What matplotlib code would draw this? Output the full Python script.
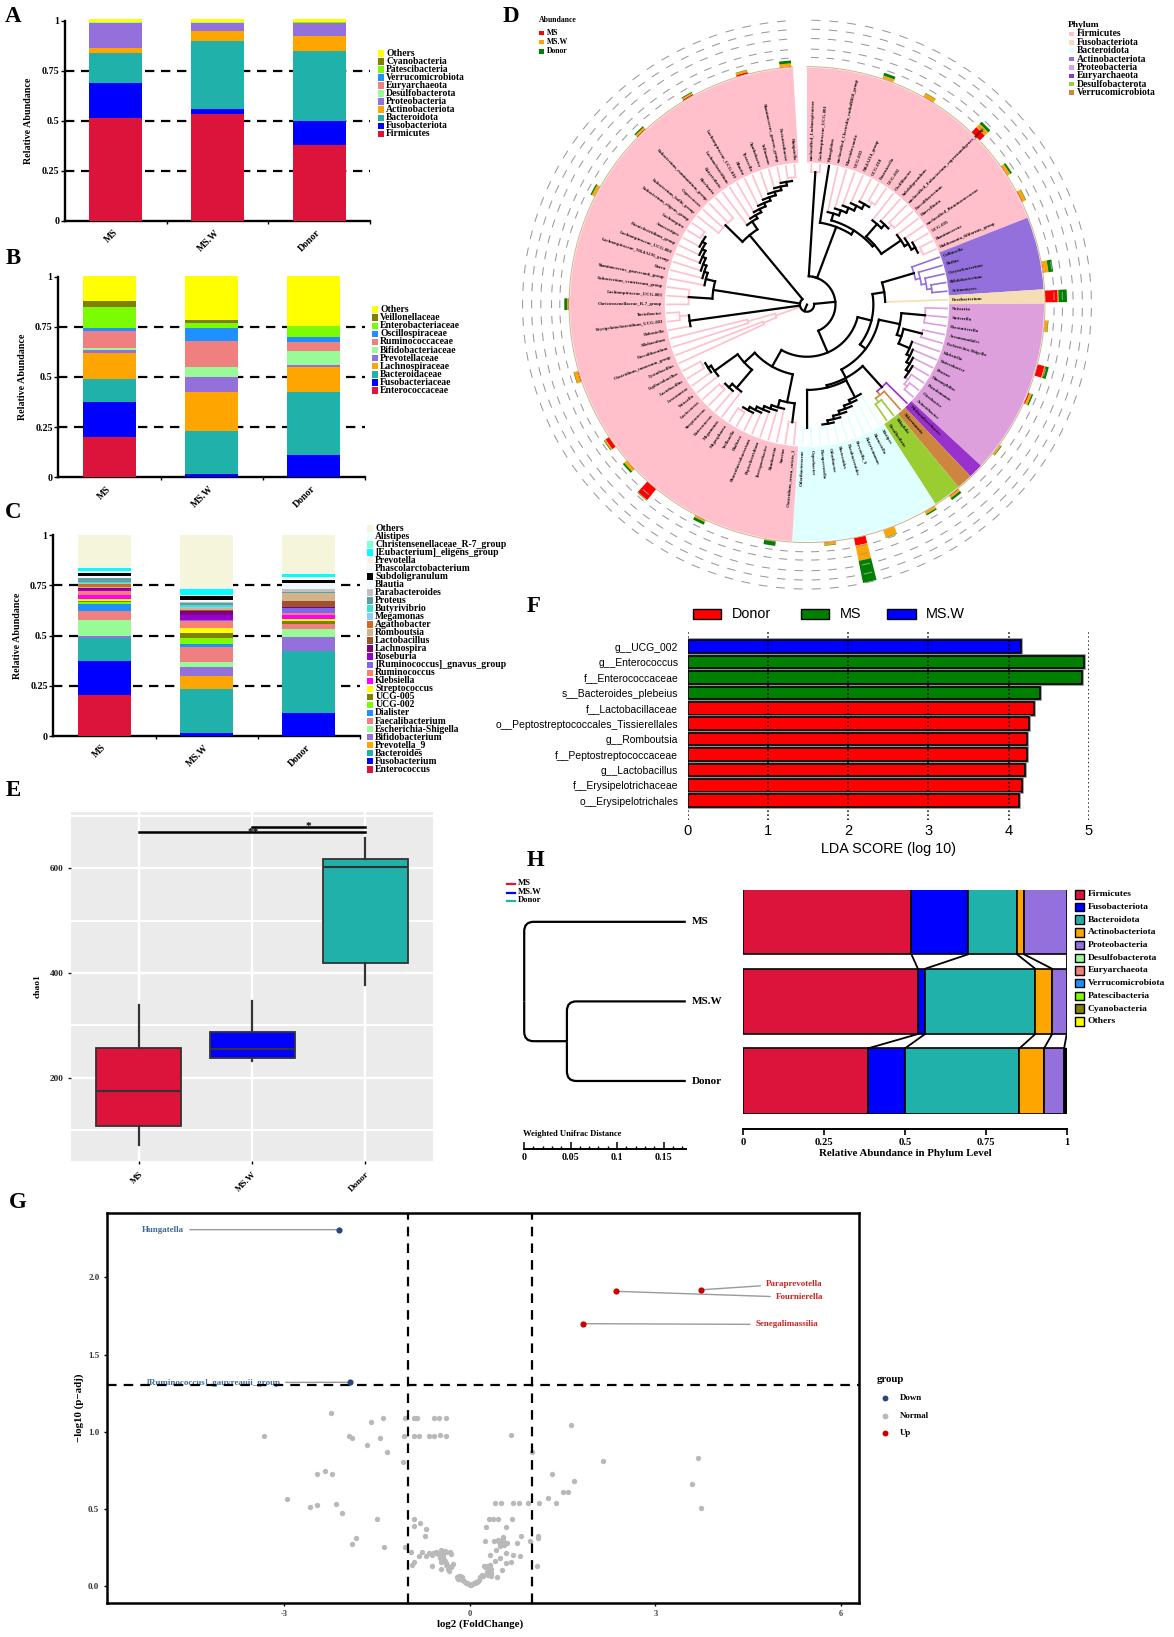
import numpy as np
import matplotlib
matplotlib.use("Agg")
import matplotlib.pyplot as plt
import matplotlib.patheffects as pe
from matplotlib.patches import Rectangle, Wedge, PathPatch
from matplotlib.path import Path

W, H = 1174, 1637
plt.rcParams['font.family'] = ['Liberation Serif', 'DejaVu Serif']
plt.rcParams['font.weight'] = 'bold'
plt.rcParams['axes.labelweight'] = 'bold'
SANS = ['Liberation Sans', 'DejaVu Sans']

groups = ['MS', 'MS.W', 'Donor']

# panel A, cumulative tops of each phylum
a_names = ['Firmicutes', 'Fusobacteriota', 'Bacteroidota', 'Actinobacteriota', 'Proteobacteria',
           'Desulfobacterota', 'Euryarchaeota', 'Verrucomicrobiota', 'Patescibacteria', 'Cyanobacteria', 'Others']
a_colors = ['#DC143C', '#0000FF', '#20B2AA', '#FFA500', '#9370DB', '#98FB98', '#F08080', '#1E90FF',
            '#7CFC00', '#808000', '#FFFF00']
a_ms = [.515, .69, .84, .862, .99, .991, .992, .993, .994, .995, 1.008]
a_msw = [.535, .56, .897, .95, .99, .991, .992, .993, .994, .995, 1.008]
a_donor = [.378, .497, .85, .925, .987, .988, .989, .99, .991, .992, 1.008]

# panel B
b_names = ['Enterococcaceae', 'Fusobacteriaceae', 'Bacteroidaceae', 'Lachnospiraceae', 'Prevotellaceae',
           'Bifidobacteriaceae', 'Ruminococcaceae', 'Oscillospiraceae', 'Enterobacteriaceae', 'Veillonellaceae', 'Others']
b_ms = [.203, .377, .488, .618, .635, .645, .731, .746, .847, .88, 1.005]
b_msw = [0, .017, .231, .425, .50, .548, .678, .743, .767, .784, 1.005]
b_donor = [0, .111, .424, .551, .561, .63, .676, .70, .756, .756, 1.005]

# panel C
c_names = ['Enterococcus', 'Fusobacterium', 'Bacteroides', 'Prevotella_9', 'Bifidobacterium', 'Escherichia-Shigella',
           'Faecalibacterium', 'Dialister', 'UCG-002', 'UCG-005', 'Streptococcus', 'Klebsiella', 'Ruminococcus',
           '[Ruminococcus]_gnavus_group', 'Roseburia', 'Lachnospira', 'Lactobacillus', 'Romboutsia', 'Agathobacter',
           'Megamonas', 'Butyrivibrio', 'Proteus', 'Parabacteroides', 'Blautia', 'Subdoligranulum',
           'Phascolarctobacterium', 'Prevotella', '[Eubacterium]_eligens_group', 'Christensenellaceae_R-7_group',
           'Alistipes', 'Others']
c_colors = ['#DC143C', '#0000FF', '#20B2AA', '#FFA500', '#9370DB', '#98FB98', '#F08080', '#1E90FF', '#7CFC00',
            '#808000', '#FFFF00', '#FF00FF', '#FA8072', '#7B68EE', '#9400D3', '#800080', '#A0522D', '#D2B48C',
            '#D2691E', '#87CEFA', '#40E0D0', '#5F9EA0', '#C0C0C0', '#F0F8FF', '#000000', '#F0F8FF', '#FAF0E6',
            '#00FFFF', '#7FFFD4', '#F0FFFF', '#F5F5DC']
c_ms = [.204, .374, .487, .49, .50, .576, .625, .66, .67, .672, .681, .703, .722, .724, .73, .735, .737, .74, .759,
        .76, .769, .787, .788, .797, .81, .819, .822, .835, .836, .84, 1.003]
c_msw = [0, .015, .233, .30, .344, .367, .443, .458, .49, .515, .538, .539, .571, .576, .601, .625, .628, .636, .637,
         .645, .652, .664, .667, .678, .696, .70, .703, .731, .733, .744, 1.003]
c_donor = [0, .113, .424, .425, .495, .533, .556, .557, .558, .575, .585, .601, .611, .638, .640, .642, .673, .711,
           .712, .713, .714, .715, .734, .761, .777, .79, .792, .806, .807, .81, 1.003]

# panel D, phylum wedges as (start, end) angles and the genera inside them
firm_right = ['unclassified_Lachnospiraceae', 'Lachnospiraceae_UCG-001', 'Monoglobus',
              'unclassified_Clostridia_vadinBB60_group', 'Marvinbryantia', 'UCG-003', 'NK4A214_group', 'UCG-010',
              'Fournierella', 'UCG-002', 'Oscillibacter', 'Subdoligranulum',
              'unclassified_Eubacterium_coprostanoligenes_group', 'Faecalibacterium', 'Harryflintia',
              'unclassified_Ruminococcaceae', 'UCG-005', 'Ruminococcus', 'Holdemania_filiformis_group']
actino = ['Collinsella', 'Rothia', 'Corynebacterium', 'Bifidobacterium', 'Actinomyces']
fuso = ['Fusobacterium']
proteo = ['Neisseria', 'Sutterella', 'Parasutterella', 'Aeromonadales', 'Escherichia-Shigella', 'Klebsiella',
          'Enterobacter', 'Proteus', 'Haemophilus', 'Pseudomonas', 'Citrobacter', 'Acinetobacter']
eury = ['Methanobrevibacter']
verru = ['Akkermansia']
desulfo = ['Bilophila', 'Desulfovibrio']
bactero = ['Alistipes', 'Barnesiella', 'Butyricimonas', 'Prevotella_9', 'Parabacteroides', 'Bacteroides',
           'Odoribacter', 'Paraprevotella', 'Coprobacter', 'Odoribacteraceae']
firm_left = ['Clostridium_sensu_stricto_1', 'Sarcina', 'Romboutsia', 'Terrisporobacter', 'Peptoclostridium',
             'Phascolarctobacterium', 'Dialister', 'Veillonella', 'Megasphaera', 'Megamonas', 'Enterococcus',
             'Streptococcus', 'Lactococcus', 'Weissella', 'Leuconostoc', 'Lactobacillus', 'Ligilactobacillus',
             'Lysinibacillus', 'Clostridium_innocuum_group', 'Faecalibaculum', 'Allobaculum', 'Dubosiella',
             'Erysipelatoclostridium_UCG-003', 'Turicibacter', 'Christensenellaceae_R-7_group',
             'Lachnospiraceae_UCG-003', 'Eubacterium_ventriosum_group', 'Ruminococcus_gauvreauii_group', 'Dorea',
             'Lachnospiraceae_NK4A136_group', 'Lachnospiraceae_UCG-004', 'Paeniclostridium_group', 'Anaerostipes',
             'Lachnospira', 'Eubacterium_eligens_group', 'Eubacterium_hallii_group', 'Coprococcus',
             'Eubacterium_ruminantium_group', 'Roseburia', 'Butyrivibrio', 'Lachnoclostridium',
             'Lachnospiraceae_UCG-010', 'Blautia', 'Tyzzerella', 'Agathobacter', 'Sellimonas',
             'Ruminococcus_gnavus_group', 'Fusicatenibacter', 'Hungatella']
phyla_genera = [firm_right, actino, fuso, proteo, eury, verru, desulfo, bactero, firm_left]
phyla_edges = [(90, 21.5), (21.5, 3.7), (3.7, .2), (.2, -42.8), (-42.8, -46.4), (-46.4, -50.3), (-50.3, -57.2),
               (-57.2, -93.6), (-93.6, -266.6)]
phyla_colors = ['#FFC0CB', '#9370DB', '#F5DEB3', '#DDA0DD', '#9932CC', '#CD853F', '#9ACD32', '#E0FFFF', '#FFC0CB']
d_phylum_names = ['Firmicutes', 'Fusobacteriota', 'Bacteroidota', 'Actinobacteriota', 'Proteobacteria',
                  'Euryarchaeota', 'Desulfobacterota', 'Verrucomicrobiota']
d_phylum_colors = ['#FFC0CB', '#F5DEB3', '#E0FFFF', '#9370DB', '#DDA0DD', '#9932CC', '#9ACD32', '#CD853F']

abund_leaf = [5, 8, 12, 15, 17, 22, 24, 26, 29, 31, 35, 39, 41, 44, 46, 48, 52, 57, 61, 63, 65, 70, 75, 83, 88, 92, 96, 99]
abund_ms = [.002, .003, .03, .003, .004, .003, .053, .002, .03, .006, .002, .004, .002, .002, .033, .003, .002, .003,
            .06, .003, .018, .004, .003, .002, .004, .006, .008, .003]
abund_msw = [.012, .014, .02, .012, .014, .02, .004, .012, .004, .01, .006, .008, .01, .03, .065, .01, .002, .006,
             .002, .012, .006, .015, .004, .012, .008, .006, .008, .012]
abund_donor = [.012, .002, .012, .008, .002, .02, .035, .002, .015, .006, .003, .01, .006, .002, .095, .002, .018,
               .012, .002, .008, .003, .002, .012, .006, .006, .004, .002, .012]

# panel E, box statistics
e_low = [71, 232, 377]
e_q1 = [108, 238, 420]
e_med = [175, 254, 602]
e_q3 = [257, 287, 618]
e_high = [338, 347, 658]
e_colors = ['#DC143C', '#0000FF', '#20B2AA']

# panel F
f_labels = ['g__UCG_002', 'g__Enterococcus', 'f__Enterococcaceae', 's__Bacteroides_plebeius', 'f__Lactobacillaceae',
            'o__Peptostreptococcales_Tissierellales', 'g__Romboutsia', 'f__Peptostreptococcaceae', 'g__Lactobacillus',
            'f__Erysipelotrichaceae', 'o__Erysipelotrichales']
f_scores = [4.15, 4.94, 4.91, 4.39, 4.32, 4.25, 4.235, 4.225, 4.2, 4.165, 4.13]
f_group = ['MS.W', 'MS', 'MS', 'MS', 'Donor', 'Donor', 'Donor', 'Donor', 'Donor', 'Donor', 'Donor']
f_palette = {'Donor': '#FF0000', 'MS': '#008000', 'MS.W': '#0000FF'}

# panel H, cumulative tops
h_names = ['Firmicutes', 'Fusobacteriota', 'Bacteroidota', 'Actinobacteriota', 'Proteobacteria', 'Desulfobacterota',
           'Euryarchaeota', 'Verrucomicrobiota', 'Patescibacteria', 'Cyanobacteria', 'Others']
h_colors = ['#DC143C', '#0000FF', '#20B2AA', '#FFA500', '#9370DB', '#98FB98', '#F08080', '#1E90FF', '#7CFC00',
            '#808000', '#FFFF00']
h_ms = [.52, .694, .847, .869, 1.0]
h_msw = [.54, .562, .903, .955, 1.0]
h_donor = [.386, .50, .854, .93, .992]
h_branch_tip = .174
h_branch_node = .046

# panel G
normal_x = [-3.33, -2.25, -1.96, -1.90, -1.60, -1.40, -1.67, -1.45, -1.34, -1.08, -1.05, -.91, -.85, -.58, -.50, -.38,
            -1.07, -.90, -.82, -.66, -.58, -.48, -.39, .66, 1.01, -2.47, -2.35, -2.23, -2.96, -2.59, -2.47, -2.16,
            -2.07, -1.50, -1.84, -1.91, -1.39, -1.05, -.95, -.91, -.81, -.90, -.71, -.72, -.83, -.77, -.71, -.66,
            -.60, -.54, -.46, -.38, -.32, -.31, -.62, -.49, -.43, -.46, -.40, -.38, -.35, -.34, -.27, -.61, -.47,
            -.91, -.94, -.17, -.135, -.19, -.11, -.08, -.04, 0, .04, .08, .12, .19, .15, .23, .27, .32, .35, .32, .30,
            .35, .44, .52, .40, .32, .485, .58, .67, .81, .70, .59, .43, .25, .39, .475, .51, .54, .53, .485, .60, .77,
            .825, .965, 1.10, 1.11, 1.09, .26, .58, .31, .38, .45, .68, .41, .51, .69, .80, .945, 1.12, 1.27, 1.39,
            1.33, 1.63, 2.16, 1.68, 1.51, 1.58, 3.69, 3.59, 3.74,
            -.16, -.12, -.065, -.02, .02, -.205, .065, .10, .135, .17, -.44, -.42, -.39, -.35, -.31, -.485, -.44, -.51,
            -.58, -.405, .25, .30, .285, .335, .27, .215, .485, .51, .54, .496, .55, .46]
normal_y = [.97, 1.12, .97, .96, 1.06, 1.09, .91, .96, .87, .80, 1.09, 1.09, 1.09, 1.09, 1.09, 1.09, .97, .97, .97,
            .97, .97, .98, .97, .98, .87, .725, .745, .725, .56, .51, .525, .53, .47, .43, .31, .27, .25, .25, .22,
            .435, .41, .39, .37, .32, .19, .22, .19, .21, .215, .22, .23, .22, .22, .205, .20, .19, .18, .155, .16,
            .135, .11, .095, .14, .125, .11, .155, .135, .06, .055, .045, .04, .025, .015, .002, .01, .02, .025, .07,
            .035, .125, .13, .135, .11, .09, .07, .06, .055, .105, .16, .20, .18, .145, .155, .19, .20, .215, .235,
            .29, .29, .285, .275, .295, .315, .26, .28, .275, .325, .29, .31, .325, .125, .38, .38, .433, .433, .433,
            .433, .535, .535, .535, .535, .535, .535, .567, .54, .725, 1.04, .81, .68, .606, .61, .83, .66, .505,
            .063, .04, .02, .01, .006, .055, .015, .024, .03, .058, .19, .167, .15, .128, .123, .178, .205, .205,
            .21, .227, .12, .11, .09, .08, .08, .063, .286, .292, .279, .262, .266, .297]
down_names = ['Hungatella', '[Ruminococcus]_gauvreauii_group']
down_x = [-2.11, -1.94]
down_y = [2.31, 1.32]
up_names = ['Paraprevotella', 'Fournierella', 'Senegalimassilia']
up_x = [3.74, 2.36, 1.83]
up_y = [1.92, 1.91, 1.70]


def ax_px(left, top, right, bottom, **kw):
    return fig.add_axes([left / W, 1 - bottom / H, (right - left) / W, (bottom - top) / H], **kw)


def swatches(x, y0, step, names, colors, size, fs, tx=None, edge='none'):
    # legend rows from the top, drawn on the pixel overlay
    for i, (n, c) in enumerate(zip(names, colors)):
        y = y0 + i * step
        ov.add_patch(Rectangle((x, y - size / 2), size, size, fc=c, ec=edge, lw=1.0))
        ov.text(tx if tx else x + size + 2, y, n, fontsize=fs, va='center', ha='left')


def stacked(box, cols, colors):
    ax = ax_px(*box)
    ax.set_xlim(0, 3)
    ax.set_ylim(0, 1)
    for i, tops in enumerate(cols):
        prev = 0
        for t, c in zip(tops, colors):
            ax.bar(i + .5, t - prev, .52, bottom=prev, color=c, lw=0, zorder=3, clip_on=False)
            prev = t
    for v in [.25, .5, .75]:
        ax.axhline(v, color='k', lw=1.6, dashes=(4.2, 3), zorder=1)
    ax.spines[['top', 'right']].set_visible(False)
    ax.spines[['left', 'bottom']].set_linewidth(1.7)
    ax.set_yticks([0, .25, .5, .75, 1], ['0', '0.25', '0.5', '0.75', '1'], fontsize=7.2)
    ax.tick_params(axis='y', length=3, width=1, pad=1)
    ax.set_xticks([.47, 1.47, 2.47], groups, rotation=45, ha='right', rotation_mode='anchor', fontsize=7)
    ax.set_xticks([1, 2, 3], minor=True)
    ax.tick_params(axis='x', which='major', length=0, pad=5)
    ax.tick_params(axis='x', which='minor', length=2, width=1)
    ax.set_ylabel('Relative Abundance', fontsize=7.2, labelpad=6)
    return ax


fig = plt.figure(figsize=(W / 100, H / 100), dpi=100, facecolor='white')

# A B C
stacked((65, 20.7, 370, 220.7), [a_ms, a_msw, a_donor], a_colors)
stacked((58.3, 276.7, 365, 477.3), [b_ms, b_msw, b_donor], a_colors)
stacked((53.3, 535.3, 360, 736), [c_ms, c_msw, c_donor], c_colors)

# D circular tree, plain axes so the wedges stay round
ax_d = ax_px(507, 4.6, 1107, 604.6)
lim = 300 / 237
ax_d.set_xlim(-lim, lim)
ax_d.set_ylim(-lim, lim)
ax_d.axis('off')

theta, leaf_col, leaf_name, steps = [], [], [], []
for names, (a0, a1), col in zip(phyla_genera, phyla_edges, phyla_colors):
    ax_d.add_patch(Wedge((0, 0), 1, a1, a0, width=.40, fc=col, ec='none'))
    st = (a0 - a1) / len(names)
    for i, n in enumerate(names):
        theta.append(a0 - st * (i + .5))
        leaf_col.append(col)
        leaf_name.append(n)
        steps.append(st)
theta = np.array(theta)


def pol(r, a):
    return r * np.cos(np.radians(a)), r * np.sin(np.radians(a))


for t, n in zip(theta, leaf_name):
    x, y = pol(.612, t)
    right = np.cos(np.radians(t)) >= 0
    ax_d.text(x, y, n, fontsize=3.4, rotation=t if right else t + 180, rotation_mode='anchor',
              ha='left' if right else 'right', va='center', color='#111111')

# dashed abundance rings and baseline
for r in [1.043, 1.078, 1.123, 1.162, 1.2]:
    for t, st in zip(theta, steps):
        arc = np.linspace(t - st * .22, t + st * .22, 5)
        ax_d.plot(*pol(r, arc), color='#9a9a9a', lw=.75)
arc = np.linspace(-266.6, 90, 400)
ax_d.plot(*pol(1.004, arc), color='#C9B48C', lw=.7)

# abundance bars stacked per leaf
for leaf, a, b, c in zip(abund_leaf, abund_ms, abund_msw, abund_donor):
    r = 1.005
    for v, col in zip((a, b, c), ('#FF0000', '#FFA500', '#008000')):
        ax_d.add_patch(Wedge((0, 0), r + v, theta[leaf] - 1.4, theta[leaf] + 1.4, width=v, fc=col, ec='none'))
        r += v


def ladder(leaves, r, step, flag=None):
    node = leaves[-1]
    for i in range(len(leaves) - 2, -1, -1):
        kids = [leaves[i], node]
        node = (r + step * i, kids, flag) if flag else (r + step * i, kids)
    return node


def first_leaf(node):
    while not isinstance(node, int):
        node = node[1][0]
    return node


def draw(node, parent_r, flagged=False):
    if isinstance(node, int):
        col = leaf_col[node] if (parent_r >= .4 or flagged) else 'k'
        ax_d.plot(*pol(np.array([parent_r, .592]), theta[node]), color=col, lw=1.2 if col != 'k' else 1.6)
        return theta[node]
    r, kids = node[0], node[1]
    flag = node[2] if len(node) > 2 else None
    ang = [draw(k, r, bool(flag)) for k in kids]
    mid = (max(ang) + min(ang)) / 2
    terminal = all(isinstance(k, int) for k in kids)
    col = leaf_col[first_leaf(node)] if (flag or terminal or r >= .53) else 'k'
    arc = np.linspace(min(ang), max(ang), 40)
    ax_d.plot(*pol(r, arc), color=col, lw=1.2 if col != 'k' else 1.6)
    colored = flag == 'c' or (col != 'k' and parent_r >= .47)
    ax_d.plot(*pol(np.array([parent_r, r]), mid), color=col if colored else 'k', lw=1.2 if colored else 1.6)
    return mid


rng = lambda a, b: list(range(a, b + 1))
fr = (.12, [(.56, [0, 1]), (.35, [2, (.37, [ladder(rng(3, 9), .40, .022),
                                            (.38, [ladder(rng(10, 13), .45, .02), ladder(rng(14, 18), .48, .018)])])])])
act = ladder(rng(19, 23), .47, .02, 'o')
pro = (.40, [(.50, [25, 26, 27]), (.42, [(.50, [28, 29]), ladder(rng(30, 36), .47, .015)])])
eud = (.47, [37, (.49, [38, (.51, [39, 40], 'o')], 'o')], 'o')
bac = (.36, [ladder(rng(41, 48), .44, .014), (.52, [49, 50])])
mid_tree = (.28, [(.33, [act, (.35, [24], 'c')]), (.31, [pro, (.35, [eud, bac])])])
c5 = (.42, [(.50, [51, 52]), ladder(rng(53, 59), .45, .015)])
c4 = (.36, [ladder(rng(60, 63), .46, .02), ladder(rng(64, 67), .48, .015)])
backbone = (.12, [fr, (.22, [mid_tree, (.30, [c5, c4])])])
pink = (.14, [(.2, [68, 69], 'c'), (.26, [70, 71], 'c')], 'c')
c3 = (.50, [72, (.54, [73, 74])])
c2 = (.40, [(.5, [75, 76, 77]), ladder(rng(78, 85), .44, .015)])
c1 = (.38, [(.48, [86, 87, 88, 89]), ladder(rng(90, 99), .42, .015)])
draw((.03, [backbone, pink, c3, c2, c1]), 0)

# E
ax_e = ax_px(71, 811.7, 433.3, 1160.7)
stats = [dict(med=m, q1=a, q3=b, whislo=l, whishi=h, fliers=[])
         for m, a, b, l, h in zip(e_med, e_q1, e_q3, e_low, e_high)]
bp = ax_e.bxp(stats, positions=[1, 2, 3], widths=.75, patch_artist=True, showcaps=False, showfliers=False,
              boxprops=dict(edgecolor='#333333', lw=1.3), whiskerprops=dict(color='#333333', lw=1.6),
              medianprops=dict(color='#333333', lw=1.5), zorder=3)
for b, c in zip(bp['boxes'], e_colors):
    b.set_facecolor(c)
ax_e.set_xlim(.4, 3.6)
ax_e.set_ylim(41.5, 708)
ax_e.set_facecolor('#EBEBEB')
ax_e.spines[:].set_visible(False)
ax_e.set_axisbelow(True)
ax_e.set_yticks([200, 400, 600])
ax_e.set_yticks([100, 300, 500, 700], minor=True)
ax_e.grid(True, which='major', color='white', lw=1.7)
ax_e.grid(True, which='minor', axis='y', color='white', lw=1.4)
ax_e.tick_params(axis='y', which='minor', length=0)
ax_e.tick_params(axis='y', which='major', length=2.5, width=1, labelsize=6.6, pad=3, colors='#222222')
ax_e.set_xticks([1, 2, 3], groups, rotation=45, ha='right', rotation_mode='anchor', fontsize=6.6)
ax_e.tick_params(axis='x', length=2.5, width=1, pad=4)
ax_e.set_ylabel('chao1', fontsize=6.8, labelpad=6)
ax_e.plot([1, 3], [669, 669], color='k', lw=1.8, zorder=4)
ax_e.plot([2, 3], [679, 679], color='k', lw=1.8, zorder=4)
ax_e.text(2.01, 668, '**', ha='center', va='center', fontsize=8, zorder=5)
ax_e.text(2.5, 680, '*', ha='center', va='center', fontsize=8, zorder=5)

# F
ax_f = ax_px(688, 632, 1088.8, 820)
ypos = np.arange(len(f_scores))
bars = ax_f.barh(ypos, f_scores, .82, color=[f_palette[g] for g in f_group], edgecolor='k', lw=1.2, zorder=2)
for b in bars:
    b.set_path_effects([pe.withStroke(linewidth=2.6, foreground='#8c8c8c')])
ax_f.set_xlim(0, 5)
ax_f.set_ylim(11.25, -.955)
ax_f.spines[:].set_visible(False)
ax_f.grid(True, axis='x', color='k', ls=':', lw=1.1, zorder=3)
ax_f.set_axisbelow(False)
ax_f.set_yticks(ypos, f_labels, family=SANS, weight='normal', fontsize=7.5)
ax_f.tick_params(axis='y', length=0, pad=7)
ax_f.set_xticks(range(6), [str(i) for i in range(6)], family=SANS, weight='normal', fontsize=10.5)
ax_f.tick_params(axis='x', length=0, pad=3)
ax_f.set_xlabel('LDA SCORE (log 10)', family=SANS, weight='normal', fontsize=10.4, labelpad=3)

# H bars with connectors
ax_h = ax_px(743.3, 890, 1066.7, 1114)
rows = [(2, h_ms), (1, h_msw), (0, h_donor)]
for y, tops in rows:
    prev = 0
    for t, c in zip(tops, h_colors):
        ax_h.barh(y, t - prev, .82, left=prev, color=c, edgecolor='k', lw=1.2)
        prev = t
    if prev < 1:
        ax_h.barh(y, 1 - prev, .82, left=prev, color='k', edgecolor='k', lw=1.0)
for (y0, t0), (y1, t1) in zip(rows[:-1], rows[1:]):
    for a, b in zip(t0, t1):
        ax_h.plot([a, b], [y0 - .41, y1 + .41], color='k', lw=1.3)
ax_h.set_xlim(0, 1)
ax_h.set_ylim(-.415, 2.40)
ax_h.spines[['top', 'right', 'left']].set_visible(False)
ax_h.spines['bottom'].set_position(('outward', 11))
ax_h.spines['bottom'].set_linewidth(1.4)
ax_h.set_yticks([])
ax_h.set_xticks([0, .25, .5, .75, 1], ['0', '0.25', '0.5', '0.75', '1'], fontsize=7.6)
ax_h.tick_params(axis='x', length=4, width=1.2, pad=2)
ax_h.set_xlabel('Relative Abundance in Phylum Level', fontsize=7.8, labelpad=2)

# H dendrogram
ax_t = ax_px(524.2, 890, 685.8, 1114)
ax_t.set_xlim(0, h_branch_tip)
ax_t.set_ylim(-.415, 2.40)
ax_t.axis('off')


def elbow(x_tip, y_tip, x_node, y_node):
    dx, dy = .01, np.sign(y_node - y_tip) * .12
    p = Path([(x_tip, y_tip), (x_node + dx, y_tip), (x_node, y_tip), (x_node, y_tip + dy), (x_node, y_node)],
             [Path.MOVETO, Path.LINETO, Path.CURVE3, Path.CURVE3, Path.LINETO])
    ax_t.add_patch(PathPatch(p, fc='none', ec='k', lw=1.6, clip_on=False))


elbow(h_branch_tip, 2, 0, 1)
elbow(h_branch_node, .5, 0, 1)
elbow(h_branch_tip, 1, h_branch_node, .5)
elbow(h_branch_tip, 0, h_branch_node, .5)

ax_s = ax_px(524.2, 1135, 685.8, 1149.3)
ax_s.set_xlim(0, h_branch_tip)
ax_s.spines[['top', 'right', 'left']].set_visible(False)
ax_s.spines['bottom'].set_linewidth(1.4)
ax_s.set_yticks([])
ax_s.set_xticks([0, .05, .1, .15], ['0', '0.05', '0.1', '0.15'], fontsize=7.2)
ax_s.set_xticks(np.arange(0, .175, .01), minor=True)
ax_s.tick_params(axis='x', which='major', direction='in', length=5, width=1.1, pad=3)
ax_s.tick_params(axis='x', which='minor', direction='in', length=2.5, width=1)
ax_s.patch.set_alpha(0)

# G volcano
ax_g = ax_px(107, 1212.7, 859.3, 1602.7)
ax_g.scatter(normal_x, normal_y, s=15, color='#B9B9B9', lw=0, zorder=2)
ax_g.scatter(down_x, down_y, s=20, color='#27487F', lw=0, zorder=4)
ax_g.scatter(up_x, up_y, s=20, color='#CC0000', lw=0, zorder=4)
ax_g.axhline(1.301, color='k', lw=1.6, dashes=(4.3, 3.2), zorder=3)
for v in (-1, 1):
    ax_g.axvline(v, color='k', lw=1.6, dashes=(4.3, 3.2), zorder=3)
ax_g.set_xlim(-5.87, 6.30)
ax_g.set_ylim(-.11, 2.42)
ax_g.spines[:].set_linewidth(1.8)
ax_g.set_xticks([-3, 0, 3, 6], ['-3', '0', '3', '6'], fontsize=6, color='#444444')
ax_g.set_yticks([0, .5, 1, 1.5, 2], ['0.0', '0.5', '1.0', '1.5', '2.0'], fontsize=6.4, color='#333333')
ax_g.tick_params(length=2.5, width=1, pad=3)
ax_g.set_xlabel('log2 (FoldChange)', fontsize=7.8, labelpad=1, x=.496)
ax_g.set_ylabel('\u2212log10 (p\u2212adj)', fontsize=7.8, labelpad=3)
line = dict(arrowstyle='-', color='#9a9a9a', lw=1.0, shrinkA=2, shrinkB=2)
for n, x, y, tx, ty in zip(down_names, down_x, down_y, [-4.62, -3.07], [2.31, 1.318]):
    ax_g.annotate(n, (x, y), (tx, ty), ha='right', va='center', fontsize=6.5, color='#3B6A9E', arrowprops=line, zorder=2)
for n, x, y, tx, ty in zip(up_names, up_x, up_y, [4.79, 4.95, 4.62], [1.96, 1.87, 1.695]):
    ax_g.annotate(n, (x, y), (tx, ty), ha='left', va='center', fontsize=6.5, color='#CC2222', arrowprops=line, zorder=2)

# overlay in figure pixels for panel letters and hand placed legends
ov = fig.add_axes([0, 0, 1, 1], zorder=10)
ov.set_xlim(0, W)
ov.set_ylim(H, 0)
ov.axis('off')

for s, x, y in [('A', 13, 17), ('B', 13, 258), ('C', 13, 513), ('D', 511, 16), ('E', 13, 790), ('F', 534, 607),
                ('G', 18, 1203), ('H', 536, 861)]:
    ov.text(x, y, s, fontsize=16.5, ha='center', va='center')

swatches(377.5, 53.3, 8.07, a_names[::-1], a_colors[::-1], 6.6, 6.9)
swatches(371.7, 309.7, 8.07, b_names[::-1], a_colors[::-1], 6.6, 6.9)
swatches(366.7, 528.3, 8.03, c_names[::-1], c_colors[::-1], 6.6, 6.9)

# D legends
ov.text(539, 20, 'Abundance', fontsize=5.6, va='center')
swatches(539, 33, 9.2, groups, ['#FF0000', '#FFA500', '#008000'], 4.5, 5.6, tx=547)
ov.text(1068, 25, 'Phylum', fontsize=6.8, va='center')
swatches(1069, 34, 8.35, d_phylum_names, d_phylum_colors, 4.5, 6.9, tx=1077)

# F legend
for name, x0, x1, tx in [('Donor', 693.3, 721, 732), ('MS', 800.8, 828.7, 839.7), ('MS.W', 887, 916, 926)]:
    ov.add_patch(Rectangle((x0, 609.3), x1 - x0, 10, fc=f_palette[name], ec='k', lw=1.0))
    ov.text(tx, 614.3, name, family=SANS, weight='normal', fontsize=10.4, va='center')

# H legends and row labels
swatches(1075, 894.3, 12.7, h_names, h_colors, 8.5, 6.8, tx=1088, edge='k')
for s, y in zip(groups, [922, 1001.7, 1081]):
    ov.text(691.5, y, s, fontsize=8, va='center')
for s, y, c in zip(groups, [883.3, 891.7, 900], ['#DC143C', '#0000FF', '#20B2AA']):
    ov.plot([506.5, 514.5], [y + 1, y + 1], color=c, lw=1.6)
    ov.text(517.6, y, s, fontsize=6.2, va='center')
ov.text(523.4, 1134, 'Weighted Unifrac Distance', fontsize=6.2, va='center')

# G legend
ov.text(877, 1380, 'group', fontsize=7.8, va='center')
for s, y, c in zip(['Down', 'Normal', 'Up'], [1398.3, 1415.7, 1433], ['#27487F', '#B9B9B9', '#CC0000']):
    ov.scatter([885.4], [y], s=18, color=c, lw=0)
    ov.text(900, y, s, fontsize=6.4, va='center')

fig.savefig('out.png', dpi=100, facecolor='white')
